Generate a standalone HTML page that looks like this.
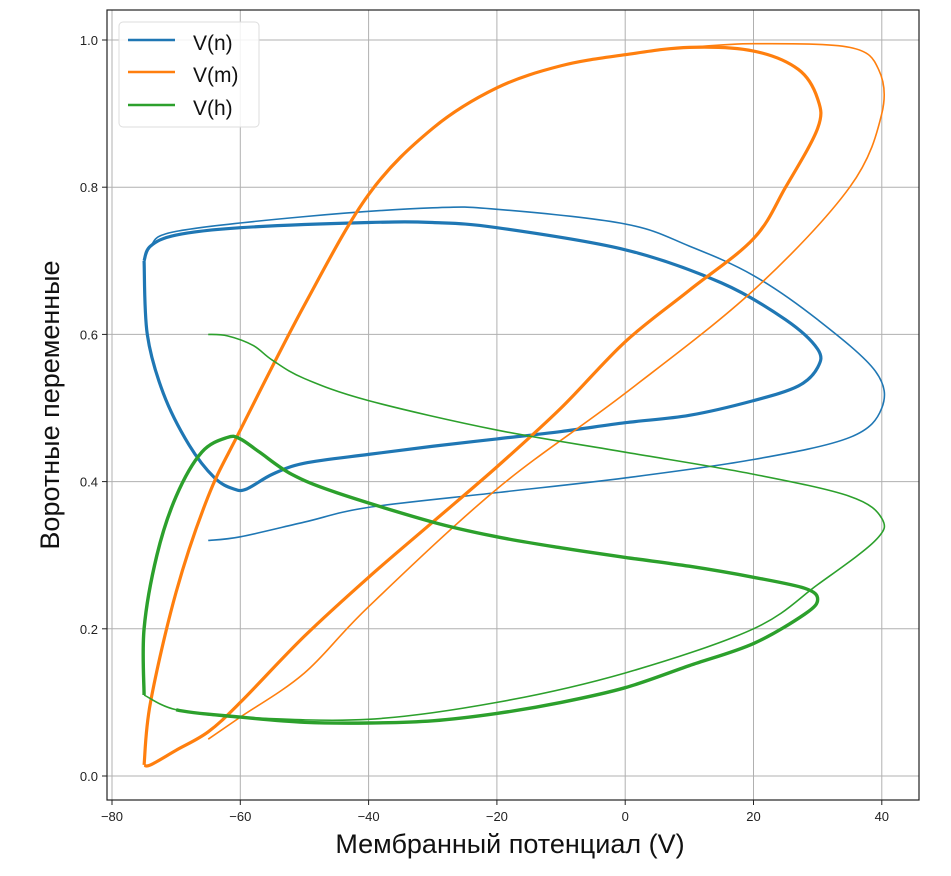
<!DOCTYPE html>
<html><head><meta charset="utf-8"><style>
body{margin:0;background:#fff;}
svg text{font-family:"Liberation Sans","DejaVu Sans",sans-serif;}
</style></head><body>
<svg id="chart" width="951" height="871">
<g id="grid"></g>
<g id="series"></g>
<rect x="107" y="10" width="812" height="790" fill="none" stroke="#222" stroke-width="1.2"/>
<g id="ticks"></g>
<text x="510" y="853" font-size="27" text-anchor="middle" fill="#111">Мембранный потенциал (V)</text>
<text transform="translate(59,405) rotate(-90)" font-size="27" text-anchor="middle" fill="#111">Воротные переменные</text>
<g>
<rect x="119" y="22" width="140" height="105" rx="4" fill="#fff" fill-opacity="0.85" stroke="#ddd"/>
<line x1="128" y1="40" x2="175" y2="40" stroke="#1f77b4" stroke-width="2.5"/>
<text x="193" y="50" font-size="21" fill="#111">V(n)</text>
<line x1="128" y1="72" x2="175" y2="72" stroke="#ff7f0e" stroke-width="2.5"/>
<text x="193" y="82" font-size="21" fill="#111">V(m)</text>
<line x1="128" y1="105" x2="175" y2="105" stroke="#2ca02c" stroke-width="2.5"/>
<text x="193" y="115" font-size="21" fill="#111">V(h)</text>
</g>
</svg>
<script>
const xTicks=[-80,-60,-40,-20,0,20,40];
const yTicks=[0.0,0.2,0.4,0.6,0.8,1.0];
const nTransV=[-65,-60,-50,-40,-20,0,20,35,40,39,30,20,10,0,-20,-30,-50,-70,-74,-75];
const nTransY=[0.32,0.325,0.345,0.365,0.385,0.405,0.43,0.46,0.5,0.55,0.62,0.68,0.72,0.75,0.77,0.772,0.76,0.74,0.72,0.70];
const nCycV=[-75,-74.5,-72,-68,-64,-61,-59,-55,-50,-40,-30,-20,-10,0,10,20,27,30,30,25,15,0,-20,-30,-40,-60,-70,-74,-75];
const nCycY=[0.70,0.60,0.52,0.45,0.405,0.39,0.39,0.41,0.425,0.437,0.448,0.458,0.468,0.48,0.49,0.51,0.53,0.555,0.58,0.62,0.67,0.715,0.745,0.752,0.752,0.745,0.735,0.72,0.70];
const mTransV=[-65,-60,-50,-40,-20,0,20,35,40,39.5,35,20,10];
const mTransY=[0.05,0.08,0.14,0.23,0.39,0.52,0.66,0.80,0.90,0.96,0.99,0.995,0.99];
const mCycV=[-75,-74,-70,-65,-60,-50,-40,-30,-20,-10,0,10,20,27,30,30,25,20,10,0,-10,-20,-30,-40,-50,-60,-65,-70,-74,-75];
const mCycY=[0.015,0.10,0.25,0.38,0.47,0.64,0.79,0.88,0.935,0.965,0.98,0.99,0.985,0.96,0.92,0.88,0.80,0.73,0.66,0.59,0.50,0.42,0.345,0.27,0.19,0.10,0.06,0.035,0.015,0.015];
const hTransV=[-65,-62,-58,-55,-50,-40,-20,0,20,35,40,39,30,20,0,-20,-40,-60,-70,-75];
const hTransY=[0.60,0.598,0.585,0.565,0.54,0.51,0.47,0.44,0.41,0.38,0.35,0.32,0.26,0.2,0.14,0.1,0.077,0.08,0.09,0.11];
const hCycV=[-75,-75,-73,-70,-66,-62,-60,-57,-52,-45,-30,-20,-10,0,10,20,28,30,28,20,10,0,-10,-20,-30,-40,-50,-60,-70,-74,-75];
const hCycY=[0.11,0.2,0.3,0.38,0.44,0.46,0.458,0.44,0.41,0.385,0.345,0.325,0.31,0.297,0.285,0.27,0.255,0.24,0.22,0.18,0.15,0.12,0.10,0.085,0.075,0.072,0.073,0.08,0.09,0.11];

const X=v=>112+(v+80)*6.415;
const Y=g=>776-g*736;
const NS="http://www.w3.org/2000/svg";
const grid=document.getElementById('grid'),ticks=document.getElementById('ticks'),ser=document.getElementById('series');
function mk(tag,attrs,parent){const e=document.createElementNS(NS,tag);for(const k in attrs)e.setAttribute(k,attrs[k]);parent.appendChild(e);return e;}
xTicks.forEach(t=>{
  const gl=mk('line',{x1:X(t),x2:X(t),y1:10,y2:800,stroke:'#b0b0b0','stroke-width':1},grid);
  
  
  const tk=mk('line',{x1:X(t),x2:X(t),y1:800,y2:805,stroke:'#222'},ticks);
  
  
  const tx=mk('text',{x:X(t),y:821,'font-size':13,'text-anchor':'middle',fill:'#222'},ticks);
  tx.textContent=(t<0?'\u2212'+(-t):t);
  
  
});
yTicks.forEach(t=>{
  const gl=mk('line',{x1:107,x2:919,y1:Y(t),y2:Y(t),stroke:'#b0b0b0','stroke-width':1},grid);
  
  
  const tk=mk('line',{x1:102,x2:107,y1:Y(t),y2:Y(t),stroke:'#222'},ticks);
  
  
  const tx=mk('text',{x:98,y:Y(t)+5,'font-size':13,'text-anchor':'end',fill:'#222'},ticks);
  tx.textContent=t.toFixed(1);
  
  
});
function path(vs,ys){
  const p=vs.map((v,i)=>[X(v),Y(ys[i])]);
  let d='M'+p[0][0]+','+p[0][1];
  for(let i=0;i<p.length-1;i++){
    const p0=p[Math.max(i-1,0)],p1=p[i],p2=p[i+1],p3=p[Math.min(i+2,p.length-1)];
    const c1=[p1[0]+(p2[0]-p0[0])/6,p1[1]+(p2[1]-p0[1])/6];
    const c2=[p2[0]-(p3[0]-p1[0])/6,p2[1]-(p3[1]-p1[1])/6];
    d+=`C${c1[0]},${c1[1]} ${c2[0]},${c2[1]} ${p2[0]},${p2[1]}`;
  }
  return d;
}
function draw(vs,ys,color,w,name){
  const e=mk('path',{d:path(vs,ys),fill:'none',stroke:color,'stroke-width':w,'stroke-linejoin':'round'},ser);
  
  
}
draw(nTransV,nTransY,'#1f77b4',1.6,'n-transient-line');
draw(nCycV,nCycY,'#1f77b4',3.2,'n-cycle-line');
draw(mTransV,mTransY,'#ff7f0e',1.6,'m-transient-line');
draw(mCycV,mCycY,'#ff7f0e',3.2,'m-cycle-line');
draw(hTransV,hTransY,'#2ca02c',1.6,'h-transient-line');
draw(hCycV,hCycY,'#2ca02c',3.4,'h-cycle-line');
</script>
</body></html>
